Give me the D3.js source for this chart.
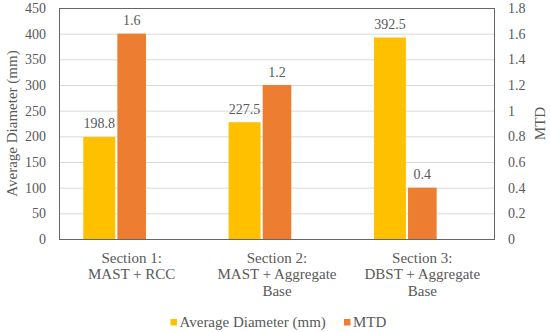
<!DOCTYPE html>
<html>
<head>
<meta charset="utf-8">
<script src="https://cdn.jsdelivr.net/npm/d3@7"></script>
<style>
  body { margin: 0; background: #fff; }
  svg text { font-family: 'Liberation Serif', 'Times New Roman', 'DejaVu Serif', serif; fill: #595959; }
</style>
</head>
<body>
<svg class="chart" width="550" height="332"></svg>
<script>
var categories = [
  ["Section 1:", "MAST + RCC"],
  ["Section 2:", "MAST + Aggregate", "Base"],
  ["Section 3:", "DBST + Aggregate", "Base"]
];
var diameter = [198.8, 227.5, 392.5];
var mtd = [1.6, 1.2, 0.4];
var leftTicks = [0, 50, 100, 150, 200, 250, 300, 350, 400, 450];
var rightTicks = [0, 0.2, 0.4, 0.6, 0.8, 1, 1.2, 1.4, 1.6, 1.8];
var seriesNames = ["Average Diameter (mm)", "MTD"];
var colors = ["#FFC000", "#ED7D31"];

var serif = "'Liberation Serif', 'Times New Roman', 'DejaVu Serif', serif";

var svg = d3.select(".chart").attr("font-family", serif),
  margin = { top: 8, right: 55, bottom: 93, left: 59 },
  width = +svg.attr("width") - margin.left - margin.right,
  height = +svg.attr("height") - margin.top - margin.bottom,
  g = svg.append("g").attr("transform", "translate(" + margin.left + "," + margin.top + ")");

var idx = d3.range(categories.length);

var x = d3.scaleBand().domain(idx).range([0, width]);
var yL = d3.scaleLinear().domain([0, 450]).range([height, 0]);
var yR = d3.scaleLinear().domain([0, 1.8]).range([height, 0]);
var bw = x.bandwidth();

// gridlines
g.append("g")
  .selectAll("line")
  .data(leftTicks.slice(1))
  .enter()
  .append("line")
  .attr("x1", 0)
  .attr("x2", width)
  .attr("y1", function (d) { return yL(d) + 0.5; })
  .attr("y2", function (d) { return yL(d) + 0.5; })
  .attr("stroke", "#d9d9d9")
  .attr("stroke-width", 1);

// diameter bars (primary axis)
g.append("g")
  .selectAll("rect")
  .data(idx)
  .enter()
  .append("rect")
  .attr("x", function (i) { return x(i) + bw * 0.167; })
  .attr("width", bw * 0.22)
  .attr("y", function (i) { return yL(diameter[i]); })
  .attr("height", function (i) { return height - yL(diameter[i]); })
  .attr("fill", colors[0]);

// mtd bars (secondary axis)
g.append("g")
  .selectAll("rect")
  .data(idx)
  .enter()
  .append("rect")
  .attr("x", function (i) { return x(i) + bw / 2 - bw * 0.0985; })
  .attr("width", bw * 0.197)
  .attr("y", function (i) { return yR(mtd[i]); })
  .attr("height", function (i) { return height - yR(mtd[i]); })
  .attr("fill", colors[1]);

// data labels
g.append("g")
  .attr("font-size", 14)
  .attr("text-anchor", "middle")
  .selectAll("text")
  .data(idx)
  .enter()
  .append("text")
  .attr("x", function (i) { return x(i) + bw * 0.167 + bw * 0.11; })
  .attr("y", function (i) { return yL(diameter[i]) - 8.5; })
  .text(function (i) { return diameter[i].toFixed(1); });

g.append("g")
  .attr("font-size", 14)
  .attr("text-anchor", "middle")
  .selectAll("text")
  .data(idx)
  .enter()
  .append("text")
  .attr("x", function (i) { return x(i) + bw / 2; })
  .attr("y", function (i) { return yR(mtd[i]) - 8.5; })
  .text(function (i) { return mtd[i].toFixed(1); });

// plot border
g.append("rect")
  .attr("x", 0.5)
  .attr("y", 0.5)
  .attr("width", width - 1)
  .attr("height", height)
  .attr("fill", "none")
  .attr("stroke", "#666")
  .attr("stroke-width", 1);

// left axis
var axL = g.append("g")
  .call(d3.axisLeft(yL).tickValues(leftTicks).tickSize(0).tickPadding(13))
  .attr("font-family", serif)
  .attr("font-size", 14);
axL.select(".domain").remove();
axL.selectAll("text").attr("fill", "#595959");

// right axis
var axR = g.append("g")
  .attr("transform", "translate(" + width + ",0)")
  .call(d3.axisRight(yR).tickValues(rightTicks).tickSize(0).tickPadding(13).tickFormat(d3.format("~g")))
  .attr("font-family", serif)
  .attr("font-size", 14);
axR.select(".domain").remove();
axR.selectAll("text").attr("fill", "#595959");

// category labels
var cat = g.append("g")
  .attr("font-size", 15)
  .attr("text-anchor", "middle")
  .selectAll("text")
  .data(idx)
  .enter()
  .append("text")
  .attr("x", function (i) { return x(i) + bw / 2; })
  .attr("y", height + 23.5);
cat.selectAll("tspan")
  .data(function (i) { return categories[i]; })
  .enter()
  .append("tspan")
  .attr("x", function () { return x(d3.select(this.parentNode).datum()) + bw / 2; })
  .attr("dy", function (d, j) { return j === 0 ? 0 : 16.7; })
  .text(function (d) { return d; });

// axis titles
svg.append("text")
  .attr("font-size", 15)
  .attr("text-anchor", "middle")
  .attr("transform", "translate(17," + (margin.top + height / 2) + ") rotate(-90)")
  .text("Average Diameter (mm)");

svg.append("text")
  .attr("font-size", 15)
  .attr("text-anchor", "middle")
  .attr("transform", "translate(545," + (margin.top + height / 2) + ") rotate(-90)")
  .text("MTD");

// legend
var legend = svg.append("g").attr("font-size", 15);
var lx = [170.5, 344];
seriesNames.forEach(function (name, i) {
  legend.append("rect")
    .attr("x", lx[i])
    .attr("y", 319)
    .attr("width", 6.5)
    .attr("height", 6.5)
    .attr("fill", colors[i]);
  legend.append("text")
    .attr("x", lx[i] + 9)
    .attr("y", 327)
    .text(name);
});
</script>
</body>
</html>
